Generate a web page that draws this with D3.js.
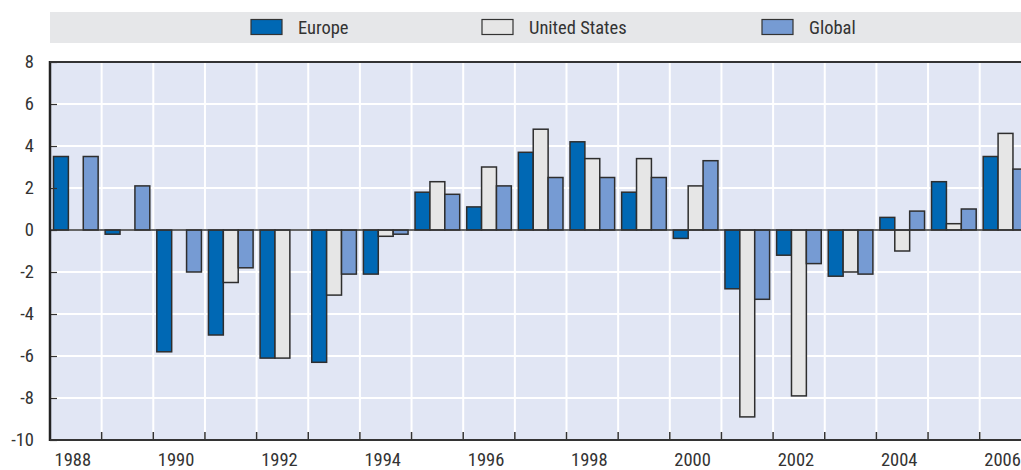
<!DOCTYPE html>
<html>
<head>
<meta charset="utf-8">
<script src="https://cdn.jsdelivr.net/npm/d3@7"></script>
<style>
	body { margin: 0; background: #fff; }
	svg text { font-family: "Liberation Sans Narrow", "Arial Narrow", "Roboto Condensed", sans-serif; fill: #333; }
</style>
</head>
<body>
<div id="chart"></div>
<script>
// chart data
var years = ["1988", "1989", "1990", "1991", "1992", "1993", "1994", "1995", "1996", "1997",
	"1998", "1999", "2000", "2001", "2002", "2003", "2004", "2005", "2006"];
var seriesNames = ["Europe", "United States", "Global"];
var europe = [3.5, -0.2, -5.8, -5.0, -6.1, -6.3, -2.1, 1.8, 1.1, 3.7, 4.2, 1.8, -0.4, -2.8, -1.2, -2.2, 0.6, 2.3, 3.5];
var unitedStates = [0, 0, 0, -2.5, -6.1, -3.1, -0.3, 2.3, 3.0, 4.8, 3.4, 3.4, 2.1, -8.9, -7.9, -2.0, -1.0, 0.3, 4.6];
var global = [3.5, 2.1, -2.0, -1.8, 0, -2.1, -0.2, 1.7, 2.1, 2.5, 2.5, 2.5, 3.3, -3.3, -1.6, -2.1, 0.9, 1.0, 2.9];
var yTicks = [8, 6, 4, 2, 0, -2, -4, -6, -8, -10];
var xLabels = ["1988", "1990", "1992", "1994", "1996", "1998", "2000", "2002", "2004", "2006"];
var colors = ["#0068b4", "#e6e6e6", "#769bd3"];

var width = 1021;
var height = 470;
var plotLeft = 50, plotTop = 62, plotBottom = 440;
var bandW = 51.65;

var svg = d3.select("#chart").append("svg")
	.attr("width", width)
	.attr("height", height);

//legend band
svg.append("rect")
	.attr("x", plotLeft).attr("y", 12)
	.attr("width", width - plotLeft).attr("height", 31)
	.style("fill", "#e6e7e9");

var legendX = [251, 482, 762];
seriesNames.forEach(function(name, i) {
	svg.append("rect")
		.attr("x", legendX[i]).attr("y", 19.5)
		.attr("width", 31).attr("height", 15)
		.style("fill", colors[i])
		.style("stroke", "#333")
		.style("stroke-width", 1.2);
	svg.append("text")
		.attr("x", legendX[i] + 47).attr("y", 28)
		.attr("dy", "0.35em")
		.style("font-size", "18.5px")
		.text(name);
});

//scales
var x0 = d3.scaleBand()
	.domain(years)
	.range([plotLeft, plotLeft + bandW * years.length]);
var x1 = d3.scaleBand()
	.domain(seriesNames)
	.range([3.5, bandW - 3.5]);
var y = d3.scaleLinear()
	.domain([-10, 8])
	.range([plotBottom, plotTop]);

//plot background
svg.append("rect")
	.attr("x", plotLeft).attr("y", plotTop)
	.attr("width", width - plotLeft).attr("height", plotBottom - plotTop)
	.style("fill", "#e1e6f4");

//grid
svg.append("g").selectAll("line")
	.data(yTicks)
	.enter().append("line")
	.attr("x1", plotLeft).attr("x2", width)
	.attr("y1", function(d) { return y(d); })
	.attr("y2", function(d) { return y(d); })
	.style("stroke", "#fff")
	.style("stroke-width", 2);

svg.append("g").selectAll("line")
	.data(years.slice(1))
	.enter().append("line")
	.attr("x1", function(d) { return x0(d); })
	.attr("x2", function(d) { return x0(d); })
	.attr("y1", plotTop).attr("y2", plotBottom)
	.style("stroke", "#fff")
	.style("stroke-width", 2);

//bars
var seriesData = [europe, unitedStates, global];
var groups = svg.append("g").selectAll("g")
	.data(years)
	.enter().append("g")
	.attr("transform", function(d) { return "translate(" + x0(d) + ",0)"; });

groups.selectAll("rect")
	.data(function(d, i) {
		return seriesNames.map(function(s, j) { return { name: s, value: seriesData[j][i], idx: j }; })
			.filter(function(b) { return b.value !== 0; });
	})
	.enter().append("rect")
	.attr("x", function(d) { return x1(d.name); })
	.attr("width", x1.bandwidth())
	.attr("y", function(d) { return y(Math.max(0, d.value)); })
	.attr("height", function(d) { return Math.abs(y(d.value) - y(0)); })
	.style("fill", function(d) { return colors[d.idx]; })
	.style("stroke", "#2e2e2e")
	.style("stroke-width", 1.5);

//zero line
svg.append("line")
	.attr("x1", plotLeft).attr("x2", width)
	.attr("y1", y(0)).attr("y2", y(0))
	.style("stroke", "#333")
	.style("stroke-width", 1.5);

//y axis
var yAxis = d3.axisRight(y).tickValues(yTicks).tickSize(7).tickFormat("");
svg.append("g")
	.attr("transform", "translate(" + plotLeft + ",0)")
	.call(yAxis)
	.call(function(g) {
		g.select(".domain").remove();
		g.selectAll("line").style("stroke", "#333").style("stroke-width", 1.2);
	});

svg.append("g").selectAll("text")
	.data(yTicks)
	.enter().append("text")
	.attr("x", 34)
	.attr("y", function(d) { return y(d); })
	.attr("dy", "0.35em")
	.attr("text-anchor", "end")
	.style("font-size", "18.5px")
	.text(function(d) { return d; });

//bottom ticks at year boundaries
svg.append("g").selectAll("line")
	.data(years.slice(1))
	.enter().append("line")
	.attr("x1", function(d) { return x0(d); })
	.attr("x2", function(d) { return x0(d); })
	.attr("y1", plotBottom).attr("y2", plotBottom - 8)
	.style("stroke", "#333")
	.style("stroke-width", 1.5);

svg.append("g").selectAll("text")
	.data(xLabels)
	.enter().append("text")
	.attr("x", function(d) { return x0(d) + x0.bandwidth() / 2 - 3; })
	.attr("y", 466)
	.attr("text-anchor", "middle")
	.style("font-size", "18.5px")
	.text(function(d) { return d; });

//frame lines
svg.append("line")
	.attr("x1", plotLeft).attr("x2", plotLeft)
	.attr("y1", plotTop - 1).attr("y2", plotBottom + 1)
	.style("stroke", "#222").style("stroke-width", 2.5);
svg.append("line")
	.attr("x1", plotLeft).attr("x2", width)
	.attr("y1", plotTop).attr("y2", plotTop)
	.style("stroke", "#333").style("stroke-width", 2);
svg.append("line")
	.attr("x1", plotLeft).attr("x2", width)
	.attr("y1", plotBottom).attr("y2", plotBottom)
	.style("stroke", "#333").style("stroke-width", 2);
</script>
</body>
</html>
